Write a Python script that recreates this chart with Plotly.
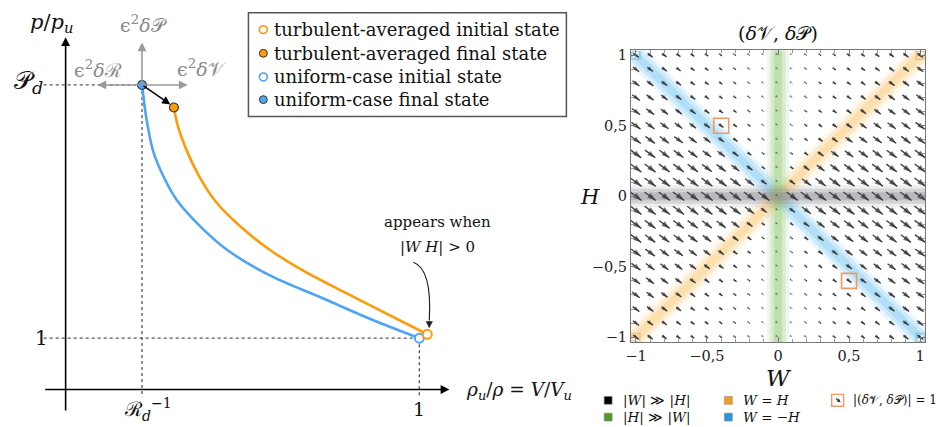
import plotly.graph_objects as go
import numpy as np

FIG_W, FIG_H = 937, 427

# ---------------- left panel data (V/V_u , p/p_u) ----------------
R_d_inv = 0.216          # x-position of R_d^-1
P_d = 5.94               # p/p_u of the final state
blue_V = [0.2163, 0.2275, 0.2472, 0.2753, 0.3146, 0.3764, 0.4551, 0.5702, 0.7303, 0.8652, 1.000]
blue_p = [5.942, 5.327, 4.654, 4.173, 3.692, 3.212, 2.731, 2.250, 1.769, 1.365, 1.000]
orange_V = [0.3062, 0.3174, 0.3427, 0.3764, 0.4213, 0.4888, 0.5758, 0.6742, 0.7865, 0.8792, 1.0225]
orange_p = [5.500, 5.135, 4.654, 4.173, 3.692, 3.212, 2.731, 2.308, 1.904, 1.577, 1.077]
blue_init = (1.0, 1.0)
orange_init = (1.0225, 1.077)
blue_final = (R_d_inv, P_d)
orange_final = (0.3062, 5.50)
legend_labels = ["turbulent-averaged initial state", "turbulent-averaged final state",
                 "uniform-case initial state", "uniform-case final state"]

# ---------------- right panel data (W , H) ----------------
grid_vals = [-1.0, -0.9, -0.8, -0.7, -0.6, -0.5, -0.4, -0.3, -0.2, -0.1, 0.0,
             0.1, 0.2, 0.3, 0.4, 0.5, 0.6, 0.7, 0.8, 0.9, 1.0]
unit_box_W = [-0.4, 0.5]
unit_box_H = [0.5, -0.6]
tick_vals = [-1, -0.5, 0, 0.5, 1]
tick_text = ["\u22121", "\u22120,5", "0", "0,5", "1"]

ORANGE = "#ff9a0a"
BLUE = "#4ea4f5"
SERIF = "DejaVu Serif"

def P(px, py):
    return px / FIG_W, 1 - py / FIG_H

fig = go.Figure()

xL_range = [-60 / 356, 515 / 356]
yL_range = [-35 / 52, 392 / 52]

fig.add_trace(go.Scatter(x=blue_V, y=blue_p, mode="lines", line=dict(color=BLUE, width=2.6, shape="spline", smoothing=1.0),
                         xaxis="x", yaxis="y", hoverinfo="skip", showlegend=False))
fig.add_trace(go.Scatter(x=orange_V, y=orange_p, mode="lines", line=dict(color=ORANGE, width=2.6, shape="spline", smoothing=1.0),
                         xaxis="x", yaxis="y", hoverinfo="skip", showlegend=False))

shapes = []
annotations = []

dot = dict(color="#555", width=1.3, dash="dot")
shapes += [
    dict(type="line", xref="x", yref="y", x0=-0.062, x1=R_d_inv, y0=P_d, y1=P_d, line=dot, layer="below"),
    dict(type="line", xref="x", yref="y", x0=R_d_inv, x1=R_d_inv, y0=P_d, y1=-0.15, line=dot, layer="below"),
    dict(type="line", xref="x", yref="y", x0=-0.062, x1=blue_init[0], y0=1, y1=1, line=dot, layer="below"),
    dict(type="line", xref="x", yref="y", x0=blue_init[0], x1=blue_init[0], y0=1, y1=-0.15, line=dot, layer="below"),
]

annotations += [
    dict(xref="x", yref="y", axref="x", ayref="y", x=0, y=6.87, ax=0, ay=-0.44, showarrow=True,
         arrowhead=2, arrowsize=1.1, arrowwidth=1.6, arrowcolor="black", text=""),
    dict(xref="x", yref="y", axref="x", ayref="y", x=1.085, y=0, ax=-0.062, ay=0, showarrow=True,
         arrowhead=2, arrowsize=1.1, arrowwidth=1.6, arrowcolor="black", text=""),
]
gray = "#9a9a9a"
for (tx, ty) in [(R_d_inv, 6.77), (0.345, P_d), (0.09, P_d)]:
    annotations.append(dict(xref="x", yref="y", axref="x", ayref="y", x=tx, y=ty, ax=R_d_inv, ay=P_d,
                            showarrow=True, arrowhead=2, arrowsize=1.1, arrowwidth=1.6, arrowcolor=gray, text=""))
annotations.append(dict(xref="x", yref="y", axref="x", ayref="y", x=0.296, y=5.56, ax=R_d_inv, ay=P_d,
                        showarrow=True, arrowhead=2, arrowsize=1.1, arrowwidth=1.5, arrowcolor="black", text=""))

def dx(px): return (px - 60) / 356
def dy(py): return (392 - py) / 52
shapes.append(dict(type="path", xref="x", yref="y",
                   path=f"M {dx(410)},{dy(263)} Q {dx(429)},{dy(270)} {dx(426)},{dy(322)}",
                   line=dict(color="#222", width=1.2)))
annotations.append(dict(xref="x", yref="y", axref="x", ayref="y", x=dx(426), y=dy(330), ax=dx(426), ay=dy(321),
                        showarrow=True, arrowhead=2, arrowsize=1.2, arrowwidth=1.2, arrowcolor="#222", text=""))

def pt(x, y, fill, stroke, w=1.6, size=9):
    fig.add_trace(go.Scatter(x=[x], y=[y], mode="markers", xaxis="x", yaxis="y", hoverinfo="skip",
                             showlegend=False,
                             marker=dict(size=size, color=fill, line=dict(color=stroke, width=w))))
pt(*blue_init, "white", BLUE, 2)
pt(*orange_init, "white", ORANGE, 2)
pt(*orange_final, ORANGE, "#333", 1.1)
pt(*blue_final, BLUE, "#333", 1.1)

def txt(px, py, s, size, color="#111", xanchor="center"):
    x, y = P(px, py)
    annotations.append(dict(xref="paper", yref="paper", x=x, y=y, text=s, showarrow=False,
                            xanchor=xanchor, yanchor="middle", font=dict(family=SERIF, size=size, color=color)))

txt(46, 20, "<i>p</i>/<i>p</i><sub><i>u</i></sub>", 21)
txt(23, 80, "\U0001D4AB<sub><i>d</i></sub>", 25)
txt(36, 340, "1", 20)
txt(143, 412, "\u211B<sub><i>d</i></sub><sup>\u22121</sup>", 20)
txt(416, 412, "1", 19)
txt(516, 394, "<i>\u03C1</i><sub><i>u</i></sub>/<i>\u03C1</i> = <i>V</i>/<i>V</i><sub><i>u</i></sub>", 18.5)
txt(138, 21, "\u03F5<sup>2</sup><i>\u03B4</i>\U0001D4AB", 19, "#8a8a8a")
txt(197, 66, "\u03F5<sup>2</sup><i>\u03B4</i>\U0001D4B1", 19, "#8a8a8a")
txt(93, 67, "\u03F5<sup>2</sup><i>\u03B4</i>\u211B", 19, "#8a8a8a")
txt(434, 222, "appears when", 15)
txt(434, 247, "|<i>W H</i>| &gt; 0", 15)

x0, y1 = P(244, 10)
x1, y0 = P(564, 115)
shapes.append(dict(type="rect", xref="paper", yref="paper", x0=x0, x1=x1, y0=y0, y1=y1,
                   line=dict(color="#555", width=1.5), fillcolor="white"))
leg_rows = [27, 51, 75, 98]
leg_style = [("white", ORANGE), (ORANGE, "#333"), ("white", BLUE), (BLUE, "#333")]
for ry, lab, (fc, sc) in zip(leg_rows, legend_labels, leg_style):
    cx0, cy1 = P(255, ry - 4)
    cx1, cy0 = P(263, ry + 4)
    shapes.append(dict(type="circle", xref="paper", yref="paper", x0=cx0, x1=cx1, y0=cy0, y1=cy1,
                       fillcolor=fc, line=dict(color=sc, width=1.6 if fc == "white" else 1)))
    txt(268, ry, lab, 18, xanchor="left")

# ---------- right panel ----------
band_specs = [
    ((-1, 1), (1, -1), (120, 200, 242)),
    ((-1, -1), (1, 1), (250, 200, 115)),
    ((0, -1.035), (0, 1.035), (145, 200, 115)),
    ((-1.035, 0), (1.035, 0), (135, 135, 145)),
]
for (a, b, (r, g, bl)) in band_specs:
    for w, op in [(22, 0.14), (15, 0.25), (8, 0.35)]:
        shapes.append(dict(type="line", xref="x2", yref="y2", x0=a[0], y0=a[1], x1=b[0], y1=b[1],
                           line=dict(color=f"rgba({r},{g},{bl},{op})", width=w), layer="below"))

Wg, Hg = np.meshgrid(np.array(grid_vals), np.array(grid_vals))
Wf, Hf = Wg.ravel(), Hg.ravel()
r2 = Wf ** 2 + Hf ** 2
mag = np.where(r2 > 0, Wf ** 2 / np.where(r2 > 0, r2, 1), 0.0)
L = 0.10
d = np.array([0.8, -0.6])
xs, ys = [], []
tipx, tipy, sizes = [], [], []
for w, h, m in zip(Wf, Hf, mag):
    l = L * m
    tx0, ty0 = w - 0.5 * l * d[0], h - 0.5 * l * d[1]
    tx1, ty1 = w + 0.5 * l * d[0], h + 0.5 * l * d[1]
    xs += [tx0, tx1, None]
    ys += [ty0, ty1, None]
    tipx.append(tx1); tipy.append(ty1)
    sizes.append(3.0 + 6.0 * m)
fig.add_trace(go.Scatter(x=xs, y=ys, mode="lines", line=dict(color="#444", width=1.4),
                         xaxis="x2", yaxis="y2", hoverinfo="skip", showlegend=False))
fig.add_trace(go.Scatter(x=tipx, y=tipy, mode="markers", xaxis="x2", yaxis="y2", hoverinfo="skip",
                         showlegend=False,
                         marker=dict(symbol="arrow", size=sizes, angle=126.87, color="#333", line=dict(width=0))))
fig.add_trace(go.Scatter(x=unit_box_W, y=unit_box_H, mode="markers", xaxis="x2", yaxis="y2", hoverinfo="skip",
                         showlegend=False,
                         marker=dict(symbol="square-open", size=15, color="#ef9a66", line=dict(width=1.6))))
fig.add_trace(go.Scatter(x=[-1, 1, -1, 1], y=[1, -1, -1, 1], mode="markers", xaxis="x2", yaxis="y2",
                         hoverinfo="skip", showlegend=False,
                         marker=dict(symbol="square-open", size=8,
                                     color=["#7cc2e8", "#7cc2e8", "#f0b870", "#f0b870"], line=dict(width=1.2))))

txt(777, 30, "(<i>\u03B4</i>\U0001D4B1, <i>\u03B4</i>\U0001D4AB)", 19)
txt(778, 380, "<i>W</i>", 23)
txt(588, 197, "<i>H</i>", 21)

leg2 = [
    (606, 403, "#000000", "|<i>W</i>| \u226B |<i>H</i>|"),
    (606, 420, "#4f9a2a", "|<i>H</i>| \u226B |<i>W</i>|"),
    (727, 403, "#f0a020", "<i>W</i> = <i>H</i>"),
    (727, 420, "#2b95d6", "<i>W</i> = \u2212<i>H</i>"),
]
for (lx, ly, col, lab) in leg2:
    sx0, sy1 = P(lx - 4, ly - 4)
    sx1, sy0 = P(lx + 4, ly + 4)
    shapes.append(dict(type="rect", xref="paper", yref="paper", x0=sx0, x1=sx1, y0=sy0, y1=sy1,
                       fillcolor=col, line=dict(color="#888", width=0.6)))
    txt(lx + 13, ly, lab, 13.5, xanchor="left")
bx0, by1 = P(831, 397)
bx1, by0 = P(843, 409)
shapes.append(dict(type="rect", xref="paper", yref="paper", x0=bx0, x1=bx1, y0=by0, y1=by1,
                   line=dict(color="#ef9a66", width=1.4), fillcolor="white"))
ax1, ay1 = P(840, 405)
annotations.append(dict(xref="paper", yref="paper", axref="pixel", ayref="pixel", x=ax1, y=ay1, ax=-6, ay=-5,
                        showarrow=True, arrowhead=2, arrowsize=0.6, arrowwidth=1.2, arrowcolor="#333", text=""))
txt(850, 403, "|(<i>\u03B4</i>\U0001D4B1, <i>\u03B4</i>\U0001D4AB)| = 1", 12, xanchor="left")

axis_common = dict(showline=True, mirror="ticks", linecolor="#777", linewidth=1, showgrid=False, zeroline=False,
                   ticks="inside", ticklen=5, tickcolor="#777", tickvals=tick_vals, ticktext=tick_text,
                   minor=dict(ticks="inside", dtick=0.1, ticklen=3, tickcolor="#999"),
                   tickfont=dict(family=SERIF, size=14.5, color="#222"), range=[-1.035, 1.035])

fig.update_layout(
    width=FIG_W, height=FIG_H, margin=dict(l=0, r=0, t=0, b=0),
    paper_bgcolor="white", plot_bgcolor="white", showlegend=False,
    xaxis=dict(domain=[0, 575 / FIG_W], range=xL_range, visible=False, fixedrange=True),
    yaxis=dict(domain=[0, 1], range=yL_range, visible=False, fixedrange=True),
    xaxis2=dict(domain=[629 / FIG_W, 925 / FIG_W], anchor="y2", **axis_common),
    yaxis2=dict(domain=[(FIG_H - 344) / FIG_H, (FIG_H - 48) / FIG_H], anchor="x2", **axis_common),
    shapes=shapes, annotations=annotations,
)

fig.write_html("out.html")
